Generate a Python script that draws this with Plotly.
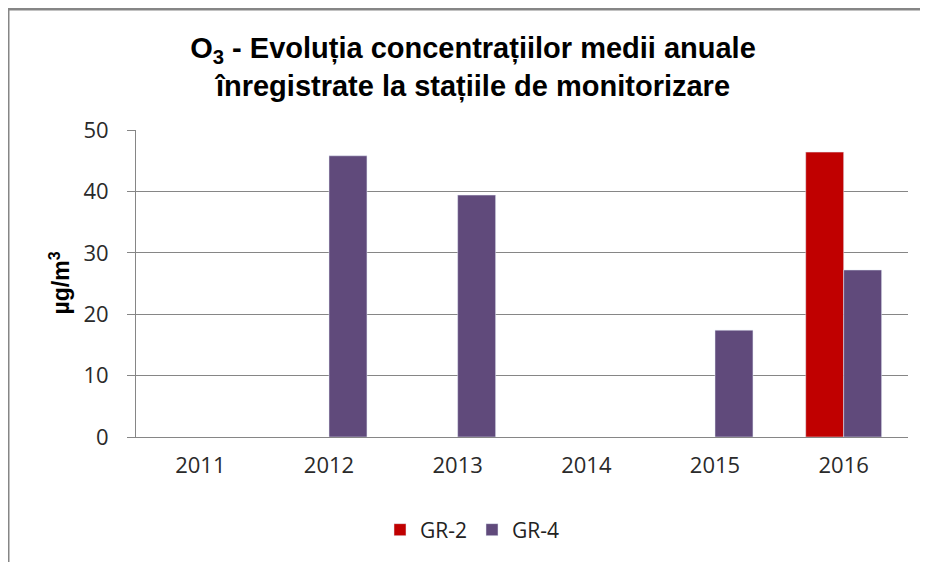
import plotly.graph_objects as go

years = ["2011", "2012", "2013", "2014", "2015", "2016"]
gr2 = [None, None, None, None, None, 46.4]
gr4 = [None, 45.8, 39.4, None, 17.4, 27.2]

# page body adds an 8px offset, so the figure is 8px smaller than the window
W, H = 920, 554
L, R, T, B = 128, 20, 122, 125
pw, ph = W - L - R, H - T - B

fig = go.Figure()
fig.add_trace(go.Bar(name="GR-2", x=years, y=gr2, marker_color="#C00000"))
fig.add_trace(go.Bar(name="GR-4", x=years, y=gr4, marker_color="#604A7B"))

fig.update_layout(
    width=W, height=H,
    margin=dict(l=L, r=R, t=T, b=B),
    paper_bgcolor="white", plot_bgcolor="white",
    barmode="group", bargap=0.41, bargroupgap=0,
    font=dict(family="Open Sans", size=22, color="#2a2a2a"),
    title=dict(
        text="<b>O<sub>3</sub> - Evoluția concentrațiilor medii anuale<br>înregistrate la stațiile de monitorizare</b>",
        x=(465 - L) / pw, xref="paper", xanchor="center",
        y=1 - 50 / H, yanchor="middle",
        font=dict(family="Liberation Sans", size=29, color="black"),
    ),
    legend=dict(orientation="h", x=(464 - L) / pw, xanchor="center",
                y=-(522 - T - ph) / ph, yanchor="middle",
                font=dict(family="Open Sans", size=21, color="#222222")),
    showlegend=True,
)
fig.update_xaxes(showline=True, linecolor="#868686", linewidth=1, ticks="",
                 ticklabelstandoff=9)
fig.update_yaxes(range=[0, 50], dtick=10, showgrid=True, gridcolor="#868686", gridwidth=1,
                 showline=True, linecolor="#868686", linewidth=1,
                 ticks="outside", ticklen=8, tickcolor="#868686", zeroline=False,
                 ticklabelstandoff=14)

fig.add_annotation(text="<b>µg/m<sup>3</sup></b>", textangle=-90,
                   xref="paper", yref="paper", x=(51 - L) / pw, y=0.5,
                   showarrow=False, xanchor="center", yanchor="middle",
                   font=dict(family="Liberation Sans", size=23, color="black"))

# outer chart border (top and left edges visible)
fig.add_shape(type="line", xref="paper", yref="paper", x0=-L / pw, x1=1 + R / pw + 0.05,
              y0=1 + (T - 1) / ph, y1=1 + (T - 1) / ph, line=dict(color="#868686", width=3))
fig.add_shape(type="line", xref="paper", yref="paper", x0=-L / pw, x1=-L / pw,
              y0=1 + T / ph, y1=-B / ph - 0.05, line=dict(color="#868686", width=3))

fig.write_html("out.html")
